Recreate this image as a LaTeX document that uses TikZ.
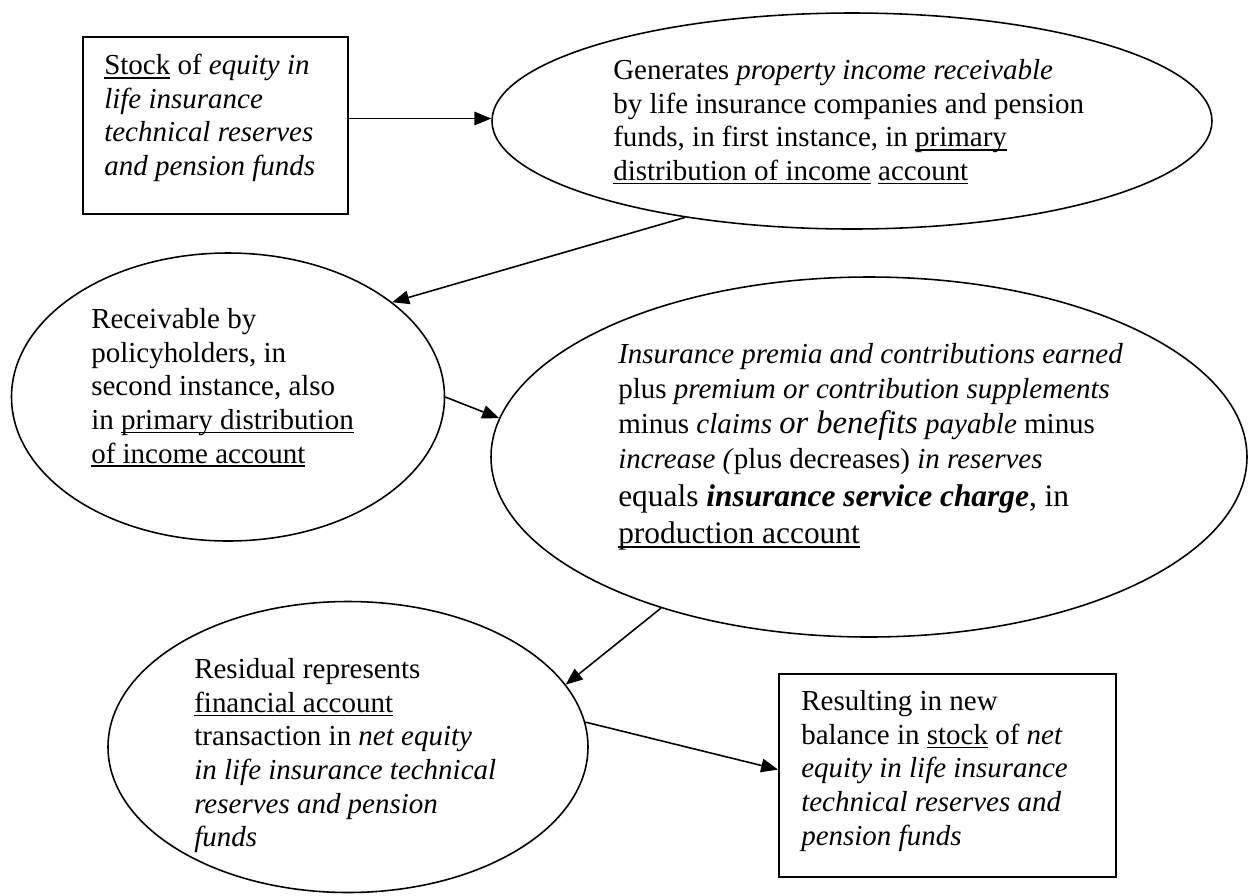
\documentclass[tikz,border=0pt]{standalone}
\usepackage{fontspec}
\setmainfont{Liberation Serif}
\usetikzlibrary{shapes.geometric,arrows.meta}
\newsavebox{\ulnbox}
\newcommand{\uln}[1]{\sbox\ulnbox{#1}\rlap{\rule[-1.6pt]{\wd\ulnbox}{0.65pt}}\usebox\ulnbox}
\newcommand{\px}{0.414pt}

\begin{document}
\begin{tikzpicture}[x=0.414pt,y=0.414pt,yscale=-1,xscale=1,
	oval/.style={draw,ellipse,inner sep=0pt,line width=0.65pt},
	panel/.style={draw,rectangle,inner sep=0pt,line width=0.75pt},
	flow/.style={line width=0.65pt,-{Triangle[length=7pt,width=5.6pt]}},
	txt/.style={anchor=north west,inner sep=0.75pt,align=left,font=\fontsize{12}{13.9}\selectfont}]
	\useasboundingbox (0,0) rectangle (1249,895);
	
	%Shape: Rectangle
	\node [panel,minimum width=265*\px,minimum height=177*\px] (b1) at (215.5,125.5) {};
	%Shape: Ellipse
	\node [oval,minimum width=720*\px,minimum height=216*\px] (e1) at (852,121) {};
	%Shape: Ellipse
	\node [oval,minimum width=433*\px,minimum height=288*\px] (e2) at (228,397) {};
	%Shape: Ellipse
	\node [oval,minimum width=756*\px,minimum height=360*\px] (e3) at (869,457) {};
	%Shape: Ellipse
	\node [oval,minimum width=480*\px,minimum height=291*\px] (e4) at (348,747) {};
	%Shape: Rectangle
	\node [panel,minimum width=337*\px,minimum height=203*\px] (b2) at (947.5,775.5) {};
	
	%Straight Lines
	\draw [flow] (b1.3) -- (b1.3 -| e1.west);
	%Straight Lines
	\draw [flow] (e1.210) -- (e2.30);
	%Straight Lines
	\draw [flow] (e2.0) -- (e3.174);
	%Straight Lines
	\draw [flow] (e3.216) -- (e4.16);
	%Straight Lines
	\draw [flow] (e4.6) -- (b2.178);
	
	% Text Node
	\node [txt] (t1) at (102,49) {\strut\uln{Stock} of \textit{equity in}\\\textit{life insurance}\\\textit{technical reserves}\\\textit{and pension funds}};
	% Text Node
	\node [txt] (t2) at (611,54) {\strut Generates \textit{property income receivable}\\by life insurance companies and pension\\funds, in first instance, in \uln{primary}\\\uln{distribution of income} \uln{account}};
	% Text Node
	\node [txt] (t3) at (89,303) {\strut Receivable by\\policyholders, in\\second instance, also\\in \uln{primary distribution}\\\uln{of income account}};
	% Text Node
	\node [txt,font=\fontsize{12}{14.5}\selectfont] (t4) at (616,337) {\strut\textit{Insurance premia and contributions earned}\\plus \textit{premium or contribution supplements}\\minus \textit{claims} {\fontsize{13.5}{14.5}\selectfont\itshape or benefits} \textit{payable} minus\\\textit{increase (}plus decreases) \textit{in reserves}\\[1pt]{\fontsize{13}{14.5}\selectfont equals \textbf{\textit{insurance service charge}}, in}\\[1pt]{\fontsize{13}{14.5}\selectfont\uln{production account}}};
	% Text Node
	\node [txt] (t5) at (192,653) {\strut Residual represents\\\uln{financial account}\\transaction in \textit{net equity}\\\textit{in life insurance technical}\\\textit{reserves and pension}\\\textit{funds}};
	% Text Node
	\node [txt] (t6) at (799,685) {\strut Resulting in new\\balance in \uln{stock} of \textit{net}\\\textit{equity in life insurance}\\\textit{technical reserves and}\\\textit{pension funds}};
\end{tikzpicture}
\end{document}
